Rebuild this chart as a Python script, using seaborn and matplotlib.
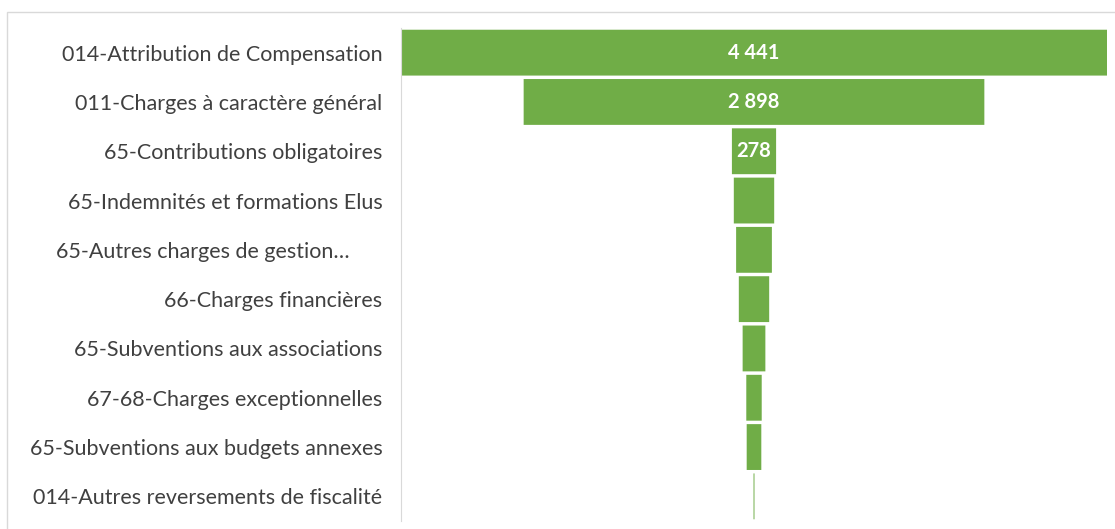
import matplotlib.pyplot as plt
import seaborn as sns
import pandas as pd
from matplotlib.patches import Rectangle

# Données
categories = ['014-Attribution de Compensation', '011-Charges à caractère général',
              '65-Contributions obligatoires', '65-Indemnités et formations Elus',
              '65-Autres charges de gestion…', '66-Charges financières',
              '65-Subventions aux associations', '67-68-Charges exceptionnelles',
              '65-Subventions aux budgets annexes', '014-Autres reversements de fiscalité']
valeurs = [4441, 2898, 278, 254, 225, 191, 143, 97, 92, 6]
etiquettes = ['4 441', '2 898', '278', '', '', '', '', '', '', '']

vmax = max(valeurs)
df = pd.DataFrame({'cat': categories, 'val': valeurs})
df['droite'] = (vmax + df['val']) / 2
df['gauche'] = (vmax - df['val']) / 2

sns.set_style('white')
plt.rcParams['font.family'] = ['Lato', 'DejaVu Sans']

fig = plt.figure(figsize=(11.15, 5.29), dpi=100)
ax = fig.add_axes([401 / 1115, 1 - 521 / 529, 706 / 1115, 493 / 529])

vert = '#70ad47'
sns.barplot(data=df, x='droite', y='cat', color=vert, saturation=1, width=0.93,
            linewidth=0, ax=ax)
sns.barplot(data=df, x='gauche', y='cat', color='white', saturation=1, width=0.98,
            linewidth=0, ax=ax)
# pas d'arrondi au pixel, sinon la dernière barre (très fine) disparaît
for p in ax.patches:
    p.set_snap(False)

for i, (v, t) in enumerate(zip(valeurs, etiquettes)):
    if t:
        ax.text(vmax / 2, i, t, ha='center', va='center', color='white',
                fontsize=14.5, fontweight='bold')

ax.set_xlim(0, vmax)
ax.set_ylim(9.5, -0.5)
ax.set_xlabel('')
ax.set_ylabel('')
ax.set_xticks([])
ax.set_yticks(range(len(categories)))
ax.set_yticklabels([c + '      ' if c.endswith('…') else c for c in categories],
                   fontsize=15.5, color='#404040')
ax.tick_params(axis='y', length=0, pad=13.5)
for s in ['top', 'right', 'bottom']:
    ax.spines[s].set_visible(False)
ax.spines['left'].set_color('#d9d9d9')

# cadre du graphique
fig.add_artist(Rectangle((7 / 1115, -0.01), 1.02, 1 - 12 / 529 + 0.01,
                         transform=fig.transFigure, fill=False,
                         edgecolor='#d9d9d9', linewidth=1))

plt.savefig('out.png', dpi=100)
